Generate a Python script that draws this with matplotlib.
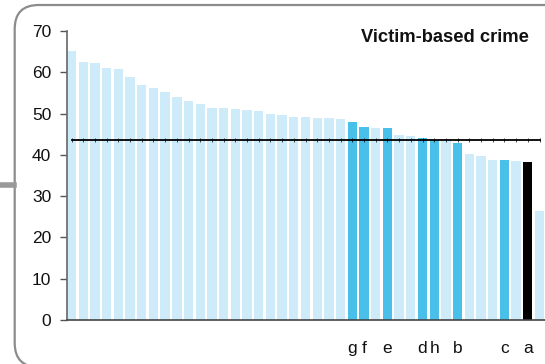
import matplotlib
matplotlib.use("Agg")
import matplotlib.pyplot as plt
from matplotlib.patches import FancyBboxPatch
from matplotlib.lines import Line2D

plt.rcParams['font.family'] = ['Liberation Sans', 'DejaVu Sans']

values = [65.1, 62.5, 62.2, 61.0, 60.8, 58.8, 56.9, 56.2, 55.2, 54.0,
          53.0, 52.3, 51.3, 51.3, 51.1, 50.8, 50.6, 49.9, 49.6, 49.2,
          49.2, 48.9, 48.9, 48.7, 47.9, 46.7, 46.5, 46.5, 44.8, 44.5,
          44.1, 43.6, 43.5, 42.9, 40.2, 39.7, 38.7, 38.7, 38.5, 38.3, 26.4]
labels = [''] * 24 + ['g', 'f', '', 'e', '', '', 'd', 'h', '', 'b',
                      '', '', '', 'c', '', 'a', '']
kinds = ['other'] * 24 + ['hl', 'hl', 'other', 'hl', 'other', 'other', 'hl', 'hl', 'other', 'hl',
                          'other', 'other', 'other', 'hl', 'other', 'focus', 'other']
average = 43.5
title = "Victim-based crime"
yticks = [0, 10, 20, 30, 40, 50, 60, 70]

color_map = {'other': '#cdebf8', 'hl': '#48c0ea', 'focus': '#000000'}

W, H = 545, 364
fig = plt.figure(figsize=(W / 100, H / 100), dpi=100)
ax = fig.add_axes([66.5 / W, (H - 320) / H, (W - 66.5) / W, 289 / H])

x = list(range(len(values)))
ax.bar(x, values, width=0.8, color=[color_map[k] for k in kinds], zorder=2)
ax.plot(x, [average] * len(x), color='black', lw=1.3,
        marker='|', ms=2.5, mew=0.5, zorder=3)

ax.set_xlim(-0.43, len(values) - 1 + 0.47)
ax.set_ylim(0, 70)
ax.set_yticks(yticks)
ax.set_xticks(x)
ax.set_xticklabels(labels)
ax.tick_params(axis='x', length=0, pad=15, labelsize=12.5, colors='#111111')
ax.tick_params(axis='y', length=5, width=1, color='#555555', pad=6, labelsize=12.5,
               labelcolor='#111111')
for s in ['top', 'right']:
    ax.spines[s].set_visible(False)
ax.spines['left'].set_color('#666666')
ax.spines['bottom'].set_color('#444444')
ax.spines['left'].set_linewidth(1.2)
ax.spines['bottom'].set_linewidth(1.2)
ax.patch.set_alpha(0)

fig.text(529 / W, (H - 42.3) / H, title, ha='right', va='baseline',
         fontsize=13.2, fontweight='bold', color='#111111')

# rounded frame
box = FancyBboxPatch((0.147, -0.03), 5.8, 3.59 + 0.03,
                     boxstyle="round,pad=0,rounding_size=0.24",
                     transform=fig.dpi_scale_trans, facecolor='none',
                     edgecolor='#8c8c8c', lw=1.6, clip_on=False)
fig.patches.append(box)
fig.lines.append(Line2D([0, 14 / W], [(H - 185) / H] * 2, transform=fig.transFigure,
                        color='#999999', lw=4))

fig.savefig("out.png", dpi=100)
